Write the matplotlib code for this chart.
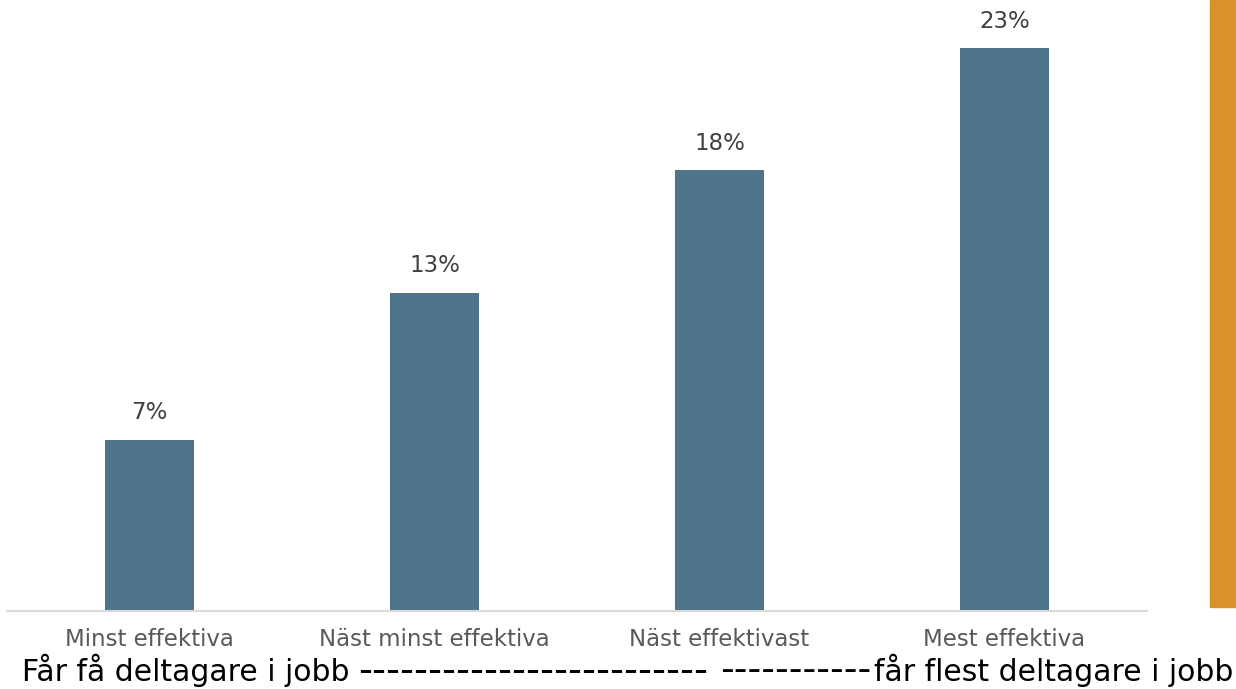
import numpy as np
import matplotlib
matplotlib.use("Agg")
import matplotlib.pyplot as plt
from matplotlib.patches import Rectangle

# data
categories = ["Minst effektiva", "Näst minst effektiva", "Näst effektivast", "Mest effektiva"]
values = [7, 13, 18, 23]
value_labels = ["7%", "13%", "18%", "23%"]
footer_left = "Får få deltagare i jobb"
footer_dash1 = "-------------------------"
footer_dash2 = "-----------"
footer_right = "får flest deltagare i jobb"

bar_color = "#4f7389"
accent_color = "#d9922b"
W, H = 1236, 689

fig = plt.figure(figsize=(W / 100, H / 100), dpi=100)
ax = fig.add_axes([7 / W, 78 / H, 1140 / W, 611 / H])

x = np.arange(len(categories))
bars = ax.bar(x, values, width=0.31, color=bar_color, zorder=2)

for b, lab in zip(bars, value_labels):
    ax.text(b.get_x() + b.get_width() / 2, b.get_height() + 0.62, lab,
            ha="center", va="bottom", fontsize=16.5, color="#404040")

ax.set_xlim(-0.5, len(categories) - 0.5)
ax.set_ylim(0, 24.95)
ax.set_xticks(x)
ax.set_xticklabels(categories, fontsize=16.5, color="#595959")
ax.tick_params(axis="x", length=0, pad=12)
ax.set_yticks([])
for side in ["top", "right", "left"]:
    ax.spines[side].set_visible(False)
ax.spines["bottom"].set_color("#d9d9d9")
ax.spines["bottom"].set_linewidth(1.5)

# orange side strip
fig.patches.append(Rectangle((1210 / W, 82 / H), 26 / W, 607 / H,
                             transform=fig.transFigure, color=accent_color, zorder=0))

# footer line, split in pieces so each lands where it sits in the reference
base_y = 8 / H
fs = 21.5
fig.text(22 / W, base_y, footer_left, fontsize=fs, color="black", ha="left", va="baseline")
fig.text(1233 / W, base_y, footer_right, fontsize=fs, color="black", ha="right", va="baseline")

renderer = fig.canvas.get_renderer()
for s, x0, x1 in [(footer_dash1, 358, 712), (footer_dash2, 720, 873)]:
    t = fig.text(x0 / W, base_y, s, fontsize=fs, color="black", ha="left", va="baseline")
    wpx = t.get_window_extent(renderer).width
    new_fs = fs * (x1 - x0) / wpx
    t.set_fontsize(new_fs)
    # keep dashes at roughly mid x-height of the footer text
    t.set_y(base_y + (2 - 0.29 * (new_fs - fs) * 100 / 72) / H)

plt.savefig("out.png", dpi=100)
